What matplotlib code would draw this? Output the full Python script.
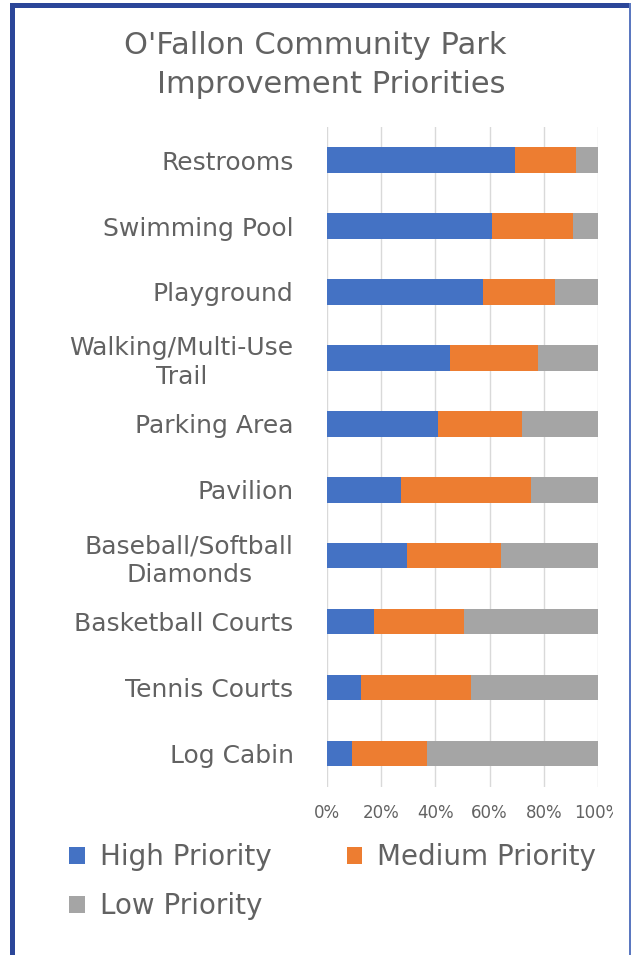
import numpy as np
import matplotlib.pyplot as plt
from matplotlib.patches import Rectangle

plt.rcParams['font.family'] = ['DejaVu Sans']

categories = ["Restrooms", "Swimming Pool", "Playground", "Walking/Multi-Use\nTrail",
              "Parking Area", "Pavilion", "Baseball/Softball\nDiamonds",
              "Basketball Courts", "Tennis Courts", "Log Cabin"]
high = [69.5, 60.9, 57.6, 45.3, 40.9, 27.5, 29.7, 17.4, 12.5, 9.1]
medium = [22.4, 30.0, 26.6, 32.4, 31.0, 47.8, 34.5, 33.1, 40.7, 27.9]
low = [8.1, 9.1, 15.8, 22.3, 28.1, 24.7, 35.8, 49.5, 46.8, 63.0]
series = ["High Priority", "Medium Priority", "Low Priority"]
colors = ["#4472C4", "#ED7D31", "#A5A5A5"]
ticks = [0, 20, 40, 60, 80, 100]
tick_labels = ["0%", "20%", "40%", "60%", "80%", "100%"]

txt = "#626262"

fig = plt.figure(figsize=(6.31, 9.55), dpi=100)
ax = fig.add_axes([0.518, 0.176, 0.430, 0.691])

y = np.arange(len(categories))
left = np.zeros(len(categories))
bars = []
for vals, name, c in zip([high, medium, low], series, colors):
    b = ax.barh(y, vals, left=left, height=0.38, color=c, label=name, zorder=3)
    bars.append(b)
    left = left + np.array(vals)

ax.set_ylim(len(categories) - 0.5, -0.5)
ax.set_xlim(0, 100)
ax.set_xticks(ticks)
ax.set_xticklabels(tick_labels, fontsize=12, color=txt)
ax.set_yticks(y)
ax.set_yticklabels(categories, fontsize=18, color=txt, multialignment='center',
                   linespacing=1.25)
ax.tick_params(axis='both', length=0)
ax.tick_params(axis='y', pad=24)
ax.tick_params(axis='x', pad=12)
ax.grid(axis='x', color='#D9D9D9', linewidth=1, zorder=0)
for s in ax.spines.values():
    s.set_visible(False)

fig.text(0.5, 0.952, "O'Fallon Community Park", ha='center', va='center',
         fontsize=22, color=txt)
fig.text(0.525, 0.912, "Improvement Priorities", ha='center', va='center',
         fontsize=22, color=txt)

# order so row 1 = High, Medium and row 2 = Low
order = [0, 2, 1]
fig.legend([bars[i] for i in order], [series[i] for i in order], loc='upper left',
           bbox_to_anchor=(0.11, 0.117), bbox_transform=fig.transFigure, ncol=2,
           frameon=False, fontsize=20, labelcolor=txt, handlelength=0.55,
           handleheight=0.55, handletextpad=0.55, columnspacing=2.7, labelspacing=0.75,
           borderaxespad=0, borderpad=0)

# clip strips and frame border
fig.patches.append(Rectangle((15 / 631, 0), 9 / 631, 1, transform=fig.transFigure,
                             facecolor='white', edgecolor='none', zorder=10))
fig.patches.append(Rectangle((613 / 631, 0), 16 / 631, 1, transform=fig.transFigure,
                             facecolor='white', edgecolor='none', zorder=10))
fig.patches.append(Rectangle((10 / 631, 0), 5 / 631, 1 - 3 / 955, transform=fig.transFigure,
                             facecolor='#2B4699', edgecolor='none', zorder=11))
fig.patches.append(Rectangle((10 / 631, 1 - 8 / 955), 621 / 631, 5 / 955,
                             transform=fig.transFigure, facecolor='#2B4699',
                             edgecolor='none', zorder=11))
fig.patches.append(Rectangle((629 / 631, 0), 1.5 / 631, 1 - 3 / 955, transform=fig.transFigure,
                             facecolor='#5B78C0', edgecolor='none', zorder=11))

fig.savefig("out.png", dpi=100)
